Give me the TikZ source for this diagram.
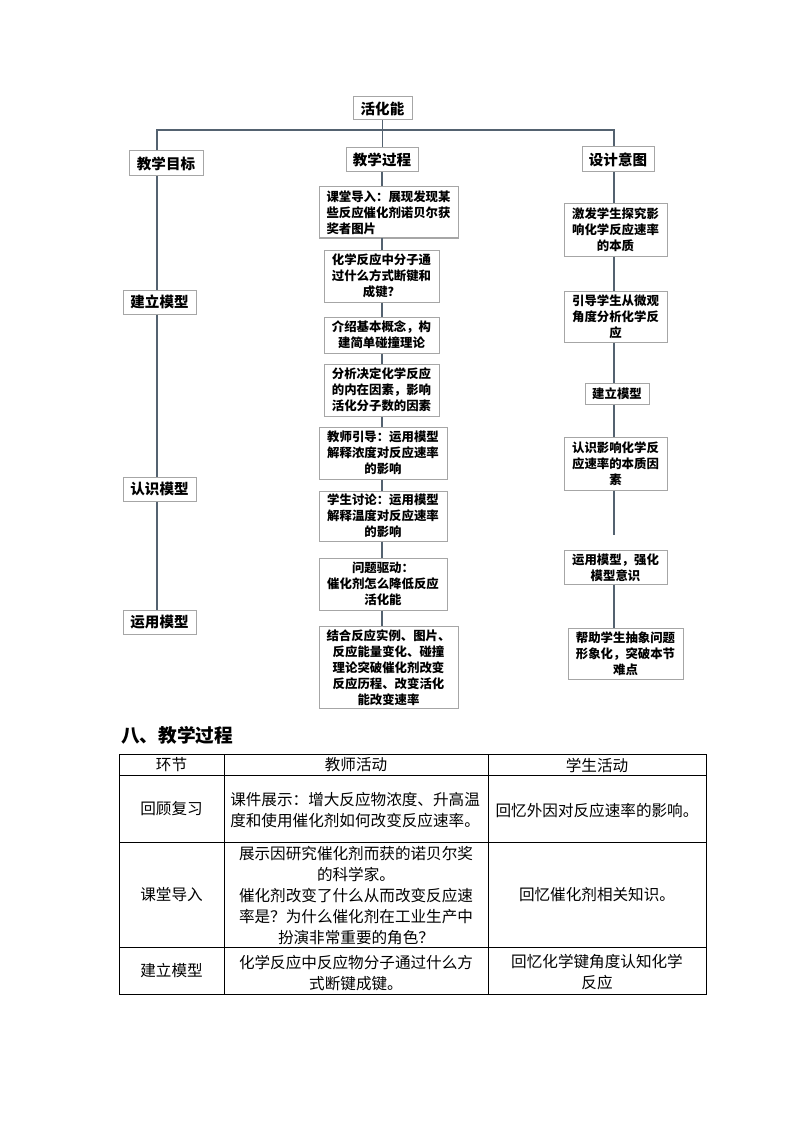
\documentclass[tikz,border=0pt]{standalone}
\usepackage{fontspec}
\setmainfont{Noto Sans CJK SC}
\usepackage{tikz}

\definecolor{boxgray}{RGB}{166,166,166}
\definecolor{linkgray}{RGB}{84,98,112}

\tikzset{
  sz/.style 2 args={minimum width=#1*0.75pt, minimum height=#2*0.75pt},
  box/.style={draw=boxgray, line width=0.75pt, inner sep=2pt, align=center,
    font=\bfseries\fontsize{9.3}{12}\selectfont},
  headbox/.style={box, font=\bfseries\fontsize{10.9}{13}\selectfont},
  link/.style={draw=linkgray, line width=0.9pt},
  tab/.style={draw=black, line width=0.75pt},
  cell/.style={inner sep=0pt, align=center, font=\fontsize{11.7}{15.75}\selectfont}
}

\begin{document}
\begin{tikzpicture}[x=0.75pt,y=0.75pt,yscale=-1,xscale=1]
\useasboundingbox (0,0) rectangle (794,1123);

% Top level
\node[headbox, sz={59}{23}] (top) at (382.5,108.5) {活化能};
\node[headbox, sz={74}{25}] (goal) at (166,163.5) {教学目标};
\node[headbox, sz={72}{24}] (proc) at (382,160) {教学过程};
\node[headbox, sz={72}{25}] (intent) at (618,159.5) {设计意图};

\coordinate (lx) at (157,130);
\coordinate (rx) at (614,130);

% Straight Lines: top branches
\draw[link] (top.south) -- (top.south |- proc.north);
\draw[link] (goal.north -| lx) -- (lx) -- (rx) -- (rx |- intent.north);

% Left column
\node[headbox, sz={73}{24}] (l1) at (159.5,302) {建立模型};
\node[headbox, sz={73}{24}] (l2) at (159.5,489) {认识模型};
\node[headbox, sz={73}{24}] (l3) at (159.5,622) {运用模型};

\draw[link] (goal.south -| lx) -- (l1.north -| lx);
\draw[link] (l1.south -| lx) -- (l2.north -| lx);
\draw[link] (l2.south -| lx) -- (l3.north -| lx);

% Middle column
\node[box, sz={139}{51}, align=left] (m1) at (388.5,212.5) {课堂导入：展现发现某\\些反应催化剂诺贝尔获\\奖者图片};
\node[box, sz={115}{52}] (m2) at (381.5,276) {化学反应中分子通\\过什么方式断键和\\成键？};
\node[box, sz={115}{36}] (m3) at (381.5,335) {介绍基本概念，构\\建简单碰撞理论};
\node[box, sz={115}{52}] (m4) at (381.5,390) {分析决定化学反应\\的内在因素，影响\\活化分子数的因素};
\node[box, sz={128}{52}] (m5) at (383,453) {教师引导：运用模型\\解释浓度对反应速率\\的影响};
\node[box, sz={128}{50}] (m6) at (383,516) {学生讨论：运用模型\\解释温度对反应速率\\的影响};
\node[box, sz={128}{52}] (m7) at (383,584) {问题驱动：\\催化剂怎么降低反应\\活化能};
\node[box, sz={139}{81}] (m8) at (388.5,667.5) {结合反应实例、图片、\\反应能量变化、碰撞\\理论突破催化剂改变\\反应历程、改变活化\\能改变速率};

\draw[link] (proc.south) -- (m1.north -| proc);
\draw[link] (m1.south -| proc) -- (m2.north -| proc);
\draw[link] (m2.south -| proc) -- (m3.north -| proc);
\draw[link] (m3.south -| proc) -- (m4.north -| proc);
\draw[link] (m4.south -| proc) -- (m5.north -| proc);
\draw[link] (m5.south -| proc) -- (m6.north -| proc);
\draw[link] (m6.south -| proc) -- (m7.north -| proc);
\draw[link] (m7.south -| proc) -- (m8.north -| proc);

% Right column
\node[box, sz={103}{52}] (r1) at (615.5,230) {激发学生探究影\\响化学反应速率\\的本质};
\node[box, sz={103}{51}] (r2) at (615.5,316.5) {引导学生从微观\\角度分析化学反\\应};
\node[box, sz={64}{21}] (r3) at (617,393.5) {建立模型};
\node[box, sz={103}{53}] (r4) at (615.5,463.5) {认识影响化学反\\应速率的本质因\\素};
\node[box, sz={103}{33}] (r5) at (615.5,567.5) {运用模型，强化\\模型意识};
\node[box, sz={115}{51}] (r6) at (625.5,653.5) {帮助学生抽象问题\\形象化，突破本节\\难点};

\coordinate (rgap) at (614,535);

\draw[link] (intent.south -| rx) -- (r1.north -| rx);
\draw[link] (r1.south -| rx) -- (r2.north -| rx);
\draw[link] (r2.south -| rx) -- (r3.north -| rx);
\draw[link] (r3.south -| rx) -- (r4.north -| rx);
\draw[link] (r4.south -| rx) -- (rgap);
\draw[link] (r5.south -| rx) -- (r6.north -| rx);

% Heading
\node[anchor=west, inner sep=0pt, font=\bfseries\fontsize{14}{16}\selectfont] (title) at (121,735) {八、教学过程};

% Table grid
\draw[tab] (119,754) rectangle (706,994);
\draw[tab] (119,775) -- (706,775);
\draw[tab] (119,842) -- (706,842);
\draw[tab] (119,947) -- (706,947);
\draw[tab] (224,754) -- (224,994);
\draw[tab] (488,754) -- (488,994);

% Table text
\node[cell] (h1) at (171.5,765) {环节};
\node[cell] (h2) at (356,765) {教师活动};
\node[cell] (h3) at (597,765) {学生活动};

\node[cell] (a1) at (171.5,809) {回顾复习};
\node[cell, anchor=west, align=left] (a2) at (230,810) {课件展示：增大反应物浓度、升高温\\度和使用催化剂如何改变反应速率。};
\node[cell] (a3) at (597,811) {回忆外因对反应速率的影响。};

\node[cell] (b1) at (171.5,895) {课堂导入};
\node[cell] (b2) at (356,895.5) {展示因研究催化剂而获的诺贝尔奖\\的科学家。\\催化剂改变了什么从而改变反应速\\率是？为什么催化剂在工业生产中\\扮演非常重要的角色？};
\node[cell] (b3) at (597,895) {回忆催化剂相关知识。};

\node[cell] (c1) at (171.5,971) {建立模型};
\node[cell] (c2) at (356,973) {化学反应中反应物分子通过什么方\\式断键成键。};
\node[cell] (c3) at (597,972) {回忆化学键角度认知化学\\反应};

\end{tikzpicture}
\end{document}
